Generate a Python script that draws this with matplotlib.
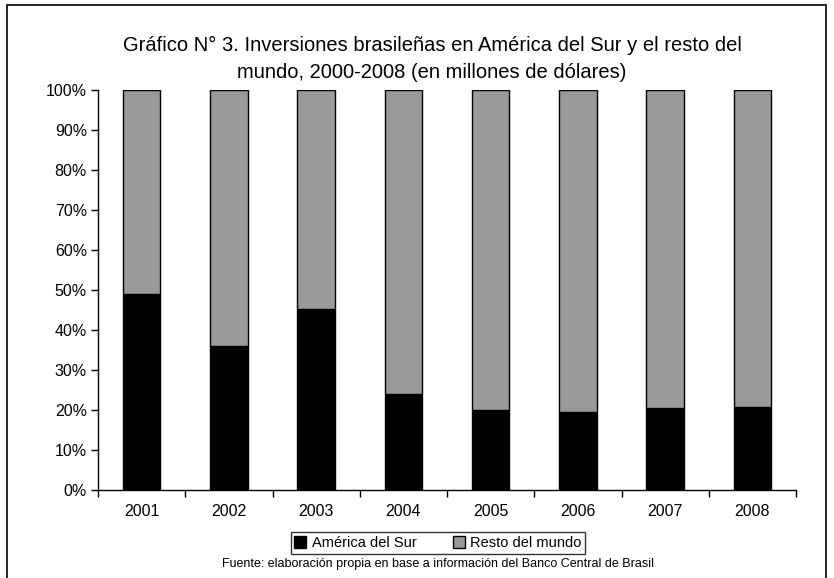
import matplotlib.pyplot as plt
import matplotlib.patches as mpatches
import numpy as np
from matplotlib.ticker import FuncFormatter

years = ['2001', '2002', '2003', '2004', '2005', '2006', '2007', '2008']
america_sur = [49.0, 36.0, 45.2, 24.0, 20.0, 19.5, 20.5, 20.8]
resto_mundo = [100 - v for v in america_sur]

plt.rcParams['font.family'] = ['Liberation Sans Narrow', 'Liberation Sans', 'DejaVu Sans']

fig = plt.figure(figsize=(8.34, 5.78), dpi=100)
ax = fig.add_axes([98 / 834, 1 - 490 / 578, 698 / 834, 400 / 578])

x = np.arange(len(years))
ax.bar(x, america_sur, width=0.43, color='black', edgecolor='black', linewidth=1)
ax.bar(x, resto_mundo, bottom=america_sur, width=0.43, color='#999999',
       edgecolor='black', linewidth=1)

ax.set_xlim(-0.5, len(years) - 0.5)
ax.set_ylim(0, 100)
ax.set_yticks(range(0, 101, 10))
ax.yaxis.set_major_formatter(FuncFormatter(lambda v, p: f'{int(v)}%'))
ax.set_xticks(x)
ax.set_xticklabels(years)
ax.set_xticks(np.arange(-0.5, len(years)), minor=True)
ax.tick_params(axis='x', which='major', length=0, pad=10, labelsize=11.5)
ax.tick_params(axis='x', which='minor', length=5, direction='out', width=1)
ax.tick_params(axis='y', length=5, direction='out', width=1, labelsize=11.5, pad=3)
for s in ['top', 'right']:
    ax.spines[s].set_visible(False)
for s in ['left', 'bottom']:
    ax.spines[s].set_linewidth(1)

fig.text(0.518, 1 - 45 / 578, 'Gráfico N° 3. Inversiones brasileñas en América del Sur y el resto del',
         ha='center', va='center', fontsize=14.5)
fig.text(0.518, 1 - 73 / 578, 'mundo, 2000-2008 (en millones de dólares)',
         ha='center', va='center', fontsize=14.5)

handles = [mpatches.Patch(facecolor='black', edgecolor='black', label='América del Sur'),
           mpatches.Patch(facecolor='#999999', edgecolor='black', label='Resto del mundo')]
leg = fig.legend(handles=handles, loc='center', bbox_to_anchor=(438 / 834, 1 - 543 / 578),
                 ncol=2, frameon=True, fancybox=False, fontsize=10.5,
                 handlelength=0.8, handleheight=0.8, handletextpad=0.4,
                 columnspacing=2.5, borderpad=0.25, borderaxespad=0)
leg.get_frame().set_edgecolor('black')
leg.get_frame().set_linewidth(1)

fig.text(438 / 834, 1 - 564 / 578,
         'Fuente: elaboración propia en base a información del Banco Central de Brasil',
         ha='center', va='center', fontsize=9)

fig.patches.append(mpatches.Rectangle((7 / 834, -0.01), 819 / 834, 1 - 5 / 578 + 0.01,
                                      transform=fig.transFigure, fill=False,
                                      edgecolor='black', linewidth=1.2))

fig.savefig('out.png', dpi=100)
